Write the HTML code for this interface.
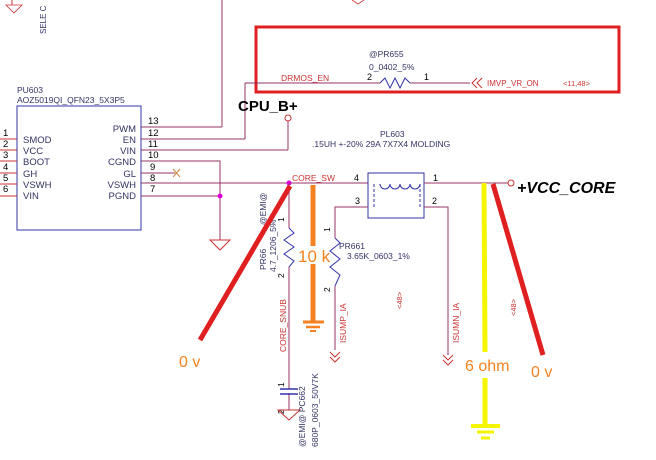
<!DOCTYPE html>
<html><head><meta charset="utf-8"><style>
html,body{margin:0;padding:0;background:#fff;}
svg{display:block;}
text{font-family:"Liberation Sans",sans-serif;}
</style></head><body>
<svg width="656" height="460" viewBox="0 0 656 460" xmlns="http://www.w3.org/2000/svg">
<polyline points="12,0 12,5" stroke="#c33" fill="none"/>
<path d="M6,5 L22,5 L14,13 Z" fill="none" stroke="#c33" stroke-width="0.8"/>
<text x="0" y="0" font-size="8" fill="#336" transform="translate(46,34) rotate(-90)">SELE C</text>
<line x1="222" y1="0" x2="222" y2="127" stroke="#936" stroke-width="1"/>
<path d="M352,0 L358,4 L364,0" fill="none" stroke="#c33" stroke-width="0.8"/>

<rect x="256" y="27" width="363" height="65" fill="none" stroke="#e02020" stroke-width="3"/>
<text x="369" y="57" font-size="8.5" fill="#336">@PR655</text>
<text x="369" y="70" font-size="8.5" fill="#336">0_0402_5%</text>
<text x="281" y="81" font-size="8.5" fill="#c33">DRMOS_EN</text>
<text x="367" y="80" font-size="9" fill="#000">2</text>
<text x="424" y="80" font-size="9" fill="#000">1</text>
<line x1="245" y1="83" x2="380" y2="83" stroke="#936"/>
<path d="M380,83 L385,78 L390,88 L395,78 L400,88 L405,78 L410,83" fill="none" stroke="#33a" stroke-width="1"/>
<line x1="410" y1="83" x2="470" y2="83" stroke="#936"/>
<path d="M477,78 L472,83 L477,88 M482,78 L477,83 L482,88" fill="none" stroke="#c33"/>
<text x="487" y="86" font-size="8" fill="#c33">IMVP_VR_ON</text>
<text x="563" y="86" font-size="7.5" fill="#c33">&lt;11,48&gt;</text>

<line x1="245" y1="83" x2="245" y2="139" stroke="#936"/>
<text x="238" y="111" font-size="15" font-weight="bold" fill="#000">CPU_B+</text>
<circle cx="288" cy="118" r="3" fill="#fff" stroke="#c33"/>
<line x1="288" y1="121" x2="288" y2="150" stroke="#936"/>

<text x="17" y="93" font-size="8.5" fill="#336">PU603</text>
<text x="17" y="103" font-size="8.5" fill="#336">AOZ5019QI_QFN23_5X3P5</text>
<rect x="17" y="106" width="124" height="124" fill="none" stroke="#33a" stroke-width="1"/>
<g font-size="9.5" fill="#336">
<text x="23" y="143">SMOD</text><text x="23" y="154">VCC</text><text x="23" y="165">BOOT</text>
<text x="23" y="177">GH</text><text x="23" y="188">VSWH</text><text x="23" y="199">VIN</text>
<text x="136" y="132" text-anchor="end">PWM</text><text x="136" y="143" text-anchor="end">EN</text>
<text x="136" y="154" text-anchor="end">VIN</text><text x="136" y="165" text-anchor="end">CGND</text>
<text x="136" y="177" text-anchor="end">GL</text><text x="136" y="188" text-anchor="end">VSWH</text>
<text x="136" y="199" text-anchor="end">PGND</text>
</g>
<g font-size="9.5" fill="#000">
<text x="3" y="136">1</text><text x="3" y="147">2</text><text x="3" y="158">3</text><text x="3" y="170">4</text><text x="3" y="181">5</text><text x="3" y="192">6</text>
<text x="148" y="124">13</text><text x="148" y="136">12</text><text x="148" y="147">11</text><text x="148" y="158">10</text>
<text x="150" y="170">9</text><text x="150" y="181">8</text><text x="150" y="192">7</text>
</g>
<g stroke="#c33" stroke-width="1">
<line x1="0" y1="139" x2="17" y2="139"/><line x1="0" y1="150" x2="17" y2="150"/><line x1="0" y1="161" x2="17" y2="161"/>
<line x1="0" y1="173" x2="17" y2="173"/><line x1="0" y1="184" x2="17" y2="184"/><line x1="0" y1="196" x2="17" y2="196"/>
</g>
<g stroke="#936" stroke-width="1" fill="none">
<polyline points="141,127 222,127"/>
<polyline points="141,139 245,139"/>
<polyline points="141,150 288,150"/>
<polyline points="141,161 220,161 220,240"/>
<polyline points="141,173 175,173"/>
<polyline points="141,196 220,196"/>
<line x1="141" y1="183" x2="368" y2="183"/>
</g>
<path d="M173,169 L180,177 M180,169 L173,177" stroke="#c84" stroke-width="1"/>
<path d="M210,240 L230,240 L220,250 Z" fill="none" stroke="#c33"/>
<circle cx="220" cy="196" r="2.5" fill="#d0d"/>
<circle cx="289" cy="183" r="2.5" fill="#d0d"/>
<text x="292" y="181" font-size="8.5" fill="#c33">CORE_SW</text>

<text x="380" y="137" font-size="8.5" fill="#336">PL603</text>
<text x="312" y="147" font-size="8.5" fill="#336">.15UH +-20% 29A 7X7X4 MOLDING</text>
<rect x="368" y="173" width="56" height="45" fill="none" stroke="#33a"/>
<path d="M380,184 a5,5 0 0 0 10,0 a5,5 0 0 0 10,0 a5,5 0 0 0 10,0 a5,5 0 0 0 10,0" fill="none" stroke="#33a"/>
<line x1="374" y1="184" x2="374" y2="207" stroke="#33a" stroke-dasharray="3,2"/>
<line x1="420" y1="184" x2="420" y2="207" stroke="#33a" stroke-dasharray="3,2"/>
<text x="354" y="181" font-size="9">4</text><text x="433" y="181" font-size="9">1</text>
<text x="355" y="204" font-size="9">3</text><text x="432" y="204" font-size="9">2</text>
<g stroke="#936" fill="none">
<line x1="424" y1="183" x2="508" y2="183"/>
<polyline points="368,207 335,207 335,238"/>
<polyline points="335,286 335,350"/>
<polyline points="424,207 448,207 448,355"/>
<line x1="289" y1="183" x2="289" y2="228"/>
<line x1="289" y1="267" x2="289" y2="389"/>
<line x1="289" y1="393" x2="289" y2="410"/>
</g>
<circle cx="511" cy="183" r="3" fill="#fff" stroke="#c33"/>
<text x="517" y="193" font-size="16" font-weight="bold" font-style="italic" fill="#000">+VCC_CORE</text>

<path d="M289,228 L294,233 L284,240 L294,247 L284,254 L294,261 L289,267" fill="none" stroke="#33a"/>
<path d="M335,238 L340,243 L330,251 L340,259 L330,267 L340,275 L335,286" fill="none" stroke="#33a"/>
<text x="339" y="249" font-size="8.5" fill="#336">PR661</text>
<text x="347" y="259" font-size="8.5" fill="#336">3.65K_0603_1%</text>
<g font-size="8.5" fill="#000">
<text transform="translate(284,222) rotate(-90)">1</text>
<text transform="translate(284,278) rotate(-90)">2</text>
<text transform="translate(330,232) rotate(-90)">1</text>
<text transform="translate(330,292) rotate(-90)">2</text>
<text transform="translate(284,387) rotate(-90)">1</text>
<text transform="translate(284,414) rotate(-90)">2</text>
</g>
<text transform="translate(266,225) rotate(-90)" font-size="8.5" fill="#336">@EMI@</text>
<text transform="translate(266,270) rotate(-90)" font-size="8.5" fill="#336">PR66</text>
<text transform="translate(276,272) rotate(-90)" font-size="8.5" fill="#336">4.7_1206_5%</text>
<text transform="translate(286,352) rotate(-90)" font-size="8.5" fill="#c33">CORE_SNUB</text>
<text transform="translate(346,343) rotate(-90)" font-size="8.5" fill="#c33">ISUMP_IA</text>
<text transform="translate(459,343) rotate(-90)" font-size="8.5" fill="#c33">ISUMN_IA</text>
<text transform="translate(402,309) rotate(-90)" font-size="7.5" fill="#c33">&lt;48&gt;</text>
<text transform="translate(516,316) rotate(-90)" font-size="7.5" fill="#c33">&lt;48&gt;</text>
<path d="M330,352 L335,357 L340,352 M330,357 L335,362 L340,357" fill="none" stroke="#c33"/>
<path d="M443,355 L448,360 L453,355 M443,360 L448,365 L453,360" fill="none" stroke="#c33"/>
<line x1="280" y1="389" x2="298" y2="389" stroke="#33a" stroke-width="1.5"/>
<line x1="280" y1="394" x2="298" y2="394" stroke="#33a" stroke-width="1.5"/>
<path d="M278,410 L300,410 L289,420 Z" fill="none" stroke="#c33"/>
<text transform="translate(305,447) rotate(-90)" font-size="8.5" fill="#336">@EMI@ PC662</text>
<text transform="translate(318,447) rotate(-90)" font-size="8.5" fill="#336">680P_0603_50V7K</text>

<line x1="313" y1="185" x2="313" y2="322" stroke="#f58220" stroke-width="5"/>
<line x1="303" y1="322" x2="324" y2="322" stroke="#f58220" stroke-width="3"/>
<line x1="306" y1="327" x2="320" y2="327" stroke="#f58220" stroke-width="2.5"/>
<line x1="310" y1="331" x2="316" y2="331" stroke="#f58220" stroke-width="2"/>
<rect x="298" y="246" width="30" height="18" fill="#fff"/>
<text x="298" y="262" font-size="17" fill="#f58220">10 k</text>
<line x1="484" y1="183" x2="485" y2="352" stroke="#f5f500" stroke-width="5"/>
<line x1="485" y1="378" x2="485" y2="426" stroke="#f5f500" stroke-width="5"/>
<line x1="471" y1="426" x2="500" y2="426" stroke="#f5f500" stroke-width="4"/>
<line x1="477" y1="432" x2="494" y2="432" stroke="#f5f500" stroke-width="3"/>
<line x1="481" y1="438" x2="490" y2="438" stroke="#f5f500" stroke-width="3"/>
<text x="465" y="371" font-size="16" fill="#f58220">6 ohm</text>
<line x1="290" y1="186" x2="200" y2="340" stroke="#e02020" stroke-width="5"/>
<line x1="493" y1="184" x2="543" y2="355" stroke="#e02020" stroke-width="5"/>
<text x="179" y="367" font-size="16" fill="#f58220">0 v</text>
<text x="531" y="377" font-size="16" fill="#f58220">0 v</text>
</svg>
</body></html>
